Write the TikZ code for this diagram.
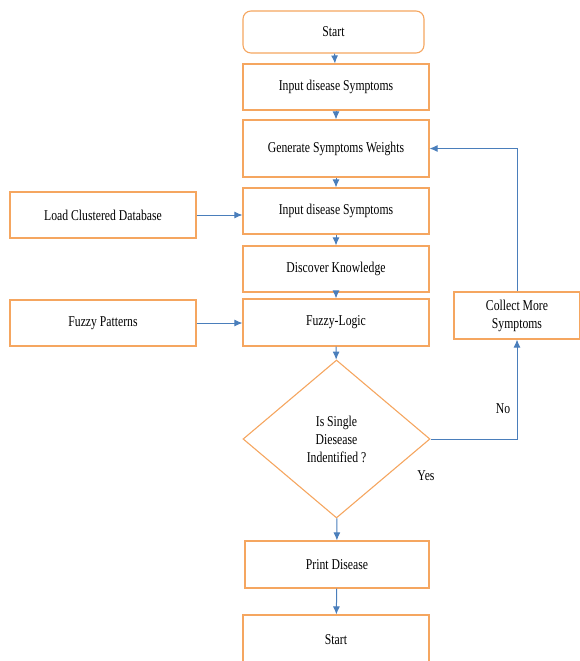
\documentclass[tikz,border=0pt]{standalone}
\usepackage{fontspec}
\setmainfont{Liberation Serif}[FakeStretch=0.78]
\usepackage{xcolor}
\usepackage{tikz}
\usetikzlibrary{arrows.meta,shapes.geometric}
\definecolor{boxorange}{HTML}{F5A660}
\definecolor{lineblue}{HTML}{4A7EBB}
\newcommand{\flowarrow}{-{Latex[length=8pt,width=7pt]}}

\begin{document}
\begin{tikzpicture}[x=1pt,y=-1pt,
	box/.style={draw=boxorange,line width=1.1pt,minimum width=186pt,minimum height=46pt,inner sep=2pt,font=\fontsize{15}{18}\selectfont,align=center},
	flow/.style={draw=lineblue,line width=1pt,\flowarrow},
	]
	\useasboundingbox (0,0) rectangle (580,661);
	\node[box,rounded corners=8pt,minimum width=181pt,minimum height=42pt] (start) at (333.5,32) {Start};
	\node[box] (in1) at (336,87) {Input disease Symptoms};
	\node[box,minimum height=57pt] (gen) at (336,148.5) {Generate Symptoms Weights};
	\node[box] (in2) at (336,211) {Input disease Symptoms};
	\node[box] (disc) at (336,269) {Discover Knowledge};
	\node[box,minimum height=47pt] (fuzzy) at (336,322.5) {Fuzzy-Logic};
	\node[box] (load) at (103,215) {Load Clustered Database};
	\node[box] (pat) at (103,323) {Fuzzy Patterns};
	\node[box,minimum width=126pt,minimum height=47pt] (coll) at (517,315.5) {Collect More\\Symptoms};
	\node[box,diamond,minimum width=187pt,minimum height=158pt,inner sep=0pt] (single) at (336.5,439) {Is Single\\Diesease\\Indentified ?};
	\node[box,minimum width=184pt,minimum height=47pt] (print) at (337,564.5) {Print Disease};
	\node[box,minimum height=50pt] (stop) at (336,640) {Start};
	\node[font=\fontsize{15}{18}\selectfont] (no) at (503,409) {No};
	\node[font=\fontsize{15}{18}\selectfont] (yes) at (426,476) {Yes};
	\draw[flow] (start) -- (in1);
	\draw[flow] (in1) -- (gen);
	\draw[flow] (gen) -- (in2);
	\draw[flow] (in2) -- (disc);
	\draw[flow] (disc) -- (fuzzy);
	\draw[flow] (fuzzy) -- (single);
	\draw[flow] (single) -- (print);
	\draw[flow] (print) -- (stop);
	\draw[flow] (load) -- (in2.west |- load);
	\draw[flow] (pat) -- (fuzzy.west |- pat);
	\draw[flow] (single.east) -| (coll.south);
	\draw[flow] (coll.north) |- (gen.east);
\end{tikzpicture}
\end{document}
